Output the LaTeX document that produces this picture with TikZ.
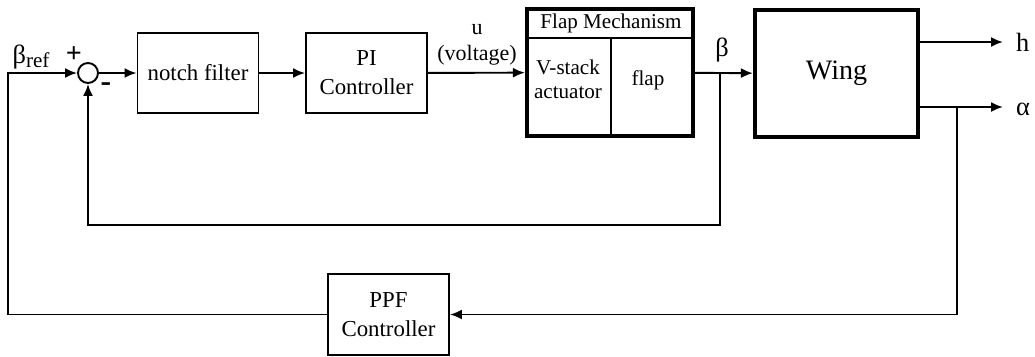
\documentclass[tikz,border=0pt]{standalone}
\usepackage{fontspec}
\setmainfont{Liberation Serif}
\usetikzlibrary{arrows.meta}

\begin{document}
\begin{tikzpicture}[x=0.02cm, y=-0.02cm,
    blk/.style={draw, line width=1.1pt, minimum width=2.42cm, minimum height=1.6cm,
      align=center, font=\fontsize{13}{16.5}\selectfont},
    thickblk/.style={draw, line width=2.4pt, minimum height=2.54cm},
    sig/.style={line width=1.1pt, -{Latex[length=2.4mm, width=2mm]}},
    wire/.style={line width=1.1pt},
    lbl/.style={font=\fontsize{12}{13.8}\selectfont, align=center, inner sep=0pt}]
    \useasboundingbox (0, 0) rectangle (1035, 356);

    % forward path
    \node[draw, circle, line width=1.1pt, minimum size=0.4cm, inner sep=0pt] (sum) at (88, 73) {};
    \node[blk] (notch) at (198, 73) {notch filter};
    \node[blk] (pi) at (366.5, 73) {PI\\Controller};
    \node[thickblk, minimum width=3.32cm] (flap) at (610, 72.5) {};
    \node[thickblk, minimum width=3.26cm, font=\fontsize{16}{18}\selectfont] (wing) at (836.5, 73.5) {Wing};
    \node[blk, minimum height=1.62cm] (ppf) at (388.5, 314.5) {PPF\\Controller};

    % inside the flap mechanism
    \draw[wire] (flap.west |- 0, 38) -- (flap.east |- 0, 38);
    \draw[wire] (611, 38) -- (flap.south -| 611, 0);
    \node[lbl] (mech) at (611, 23) {Flap Mechanism};
    \node[lbl] (act) at (568, 79) {V-stack\\actuator};
    \node[lbl] (flp) at (648, 80) {flap};

    % tap points
    \coordinate (betaTap) at (720, 73);
    \coordinate (innerLow) at (720, 225);
    \coordinate (alphaTap) at (957, 107);
    \coordinate (leftTop) at (8, 73);
    \coordinate (hEnd) at (1003, 42);
    \coordinate (aEnd) at (1003, 107);

    \draw[sig] (sum) -- (notch);
    \draw[sig] (notch) -- (pi);
    \draw[sig] (pi) -- (flap);
    \draw[sig] (flap) -- (wing);
    \draw[sig] (wing.east |- hEnd) -- (hEnd);
    \draw[sig] (wing.east |- aEnd) -- (aEnd);

    % feedback loops
    \draw[sig] (betaTap) -- (innerLow) -| (sum.south);
    \draw[sig] (alphaTap) |- (ppf.east);
    \draw[sig] (ppf.west) -| (leftTop) -- (sum.west);

    % labels
    \node[] (bref) at (31, 57) {\fontsize{15}{15}\selectfont β\raisebox{-0.35ex}{\fontsize{12}{12}\selectfont ref}};
    \node[] (plus) at (74, 55) {\fontsize{16}{16}\selectfont\bfseries +};
    \node[] (minus) at (106, 87) {\fontsize{18}{18}\selectfont\bfseries -};
    \node[lbl, font=\fontsize{12.5}{14.5}\selectfont] (ulab) at (477, 45) {u\\(voltage)};
    \node[] (blab) at (722, 50) {\fontsize{15}{15}\selectfont β};
    \node[anchor=west] (hlab) at (1010, 42) {\fontsize{15}{15}\selectfont h};
    \node[anchor=west] (alab) at (1010, 109) {\fontsize{15}{15}\selectfont α};
  \end{tikzpicture}
\end{document}
